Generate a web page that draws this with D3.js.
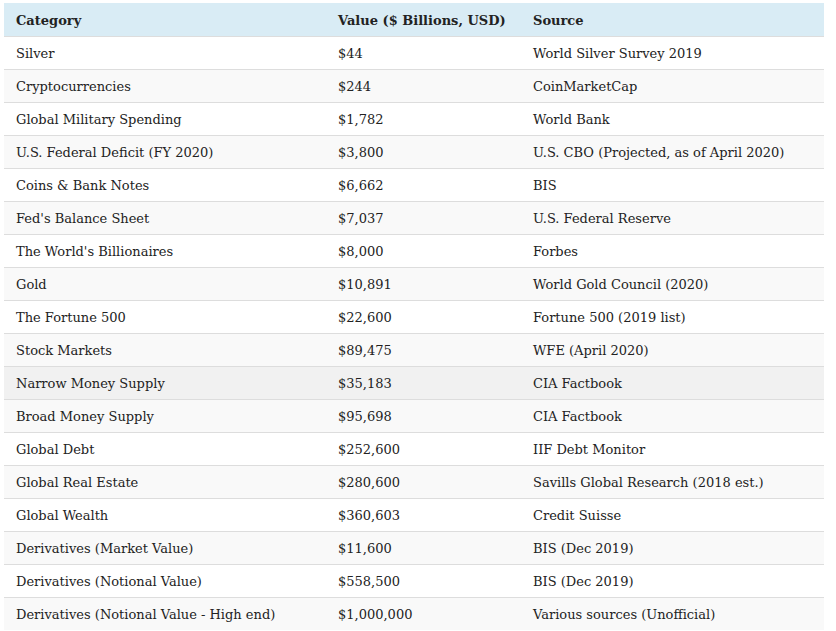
<!DOCTYPE html>
<html>
<head>
<meta charset="utf-8">
<script src="https://cdn.jsdelivr.net/npm/d3@7"></script>
<style>
  html, body { margin: 0; padding: 0; background: #fff; }
  svg text { font-family: "DejaVu Serif", "Liberation Serif", serif; font-size: 13px; fill: #222; }
  svg text.head { font-weight: bold; }
</style>
</head>
<body>
<svg id="chart" width="836" height="631"></svg>
<script>
const headers = ["Category", "Value ($ Billions, USD)", "Source"];
const categories = [
  "Silver", "Cryptocurrencies", "Global Military Spending", "U.S. Federal Deficit (FY 2020)",
  "Coins & Bank Notes", "Fed's Balance Sheet", "The World's Billionaires", "Gold",
  "The Fortune 500", "Stock Markets", "Narrow Money Supply", "Broad Money Supply",
  "Global Debt", "Global Real Estate", "Global Wealth", "Derivatives (Market Value)",
  "Derivatives (Notional Value)", "Derivatives (Notional Value - High end)"
];
const values = [44, 244, 1782, 3800, 6662, 7037, 8000, 10891, 22600, 89475, 35183, 95698,
  252600, 280600, 360603, 11600, 558500, 1000000];
const sources = [
  "World Silver Survey 2019", "CoinMarketCap", "World Bank", "U.S. CBO (Projected, as of April 2020)",
  "BIS", "U.S. Federal Reserve", "Forbes", "World Gold Council (2020)",
  "Fortune 500 (2019 list)", "WFE (April 2020)", "CIA Factbook", "CIA Factbook",
  "IIF Debt Monitor", "Savills Global Research (2018 est.)", "Credit Suisse", "BIS (Dec 2019)",
  "BIS (Dec 2019)", "Various sources (Unofficial)"
];
const highlighted = "Narrow Money Supply";

const rows = categories.map((c, i) => ({ i, category: c, value: values[i], source: sources[i] }));
const fmt = d3.format("$,");

const svg = d3.select("#chart");
const tLeft = 4, tRight = 824, tTop = 3;
const rowH = 33;
const y = d3.scaleBand().domain(d3.range(-1, rows.length)).range([tTop, tTop + rowH * (rows.length + 1)]).padding(0);
const colX = d3.scaleOrdinal().domain([0, 1, 2]).range([4, 326, 521]);
const pad = 12;

// header
svg.append("rect").attr("x", tLeft).attr("y", y(-1)).attr("width", tRight - tLeft).attr("height", y.bandwidth())
  .attr("fill", "#d9ecf5");
svg.selectAll("text.head").data(headers).join("text").attr("class", "head")
  .attr("x", (d, i) => colX(i) + pad).attr("y", y(-1) + y.bandwidth() / 2 + 5).text(d => d);

// rows
const g = svg.selectAll("g.row").data(rows).join("g").attr("class", "row")
  .attr("transform", d => `translate(0,${y(d.i)})`);
g.append("rect").attr("x", tLeft).attr("y", 0).attr("width", tRight - tLeft).attr("height", y.bandwidth())
  .attr("fill", d => d.category === highlighted ? "#f1f1f1" : (d.i % 2 === 1 ? "#f9f9f9" : "#ffffff"));
g.append("line").attr("x1", tLeft).attr("x2", tRight).attr("y1", 0.5).attr("y2", 0.5)
  .attr("stroke", "#dddddd").attr("stroke-width", 1);
g.append("text").attr("x", colX(0) + pad).attr("y", y.bandwidth() / 2 + 5).text(d => d.category);
g.append("text").attr("x", colX(1) + pad).attr("y", y.bandwidth() / 2 + 5).text(d => fmt(d.value));
g.append("text").attr("x", colX(2) + pad).attr("y", y.bandwidth() / 2 + 5).text(d => d.source);
</script>
</body>
</html>
